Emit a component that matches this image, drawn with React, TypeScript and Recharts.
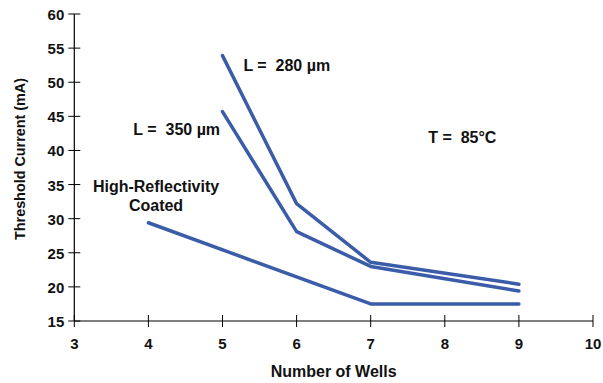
import React from 'react';
import { LineChart, Line, XAxis, YAxis, ReferenceDot, Label } from 'recharts';

const wells = [4, 5, 6, 7, 9];
const hrCoated = [29.4, null, null, 17.5, 17.5];
const l350 = [null, 45.7, 28.1, 23.0, 19.4];
const l280 = [null, 53.9, 32.2, 23.6, 20.4];
const xTicks = [3, 4, 5, 6, 7, 8, 9, 10];
const yTicks = [15, 20, 25, 30, 35, 40, 45, 50, 55, 60];

const hrData = wells.map((w, i) => ({ x: w, y: hrCoated[i] })).filter(d => d.y !== null);
const d350 = wells.map((w, i) => ({ x: w, y: l350[i] })).filter(d => d.y !== null);
const d280 = wells.map((w, i) => ({ x: w, y: l280[i] })).filter(d => d.y !== null);

const FONT = '"Liberation Sans", Arial, Helvetica, sans-serif';
const LINE = '#3a5ca9';
const INK = '#111';

const YTick = (props: any) => {
  const { x, y, payload } = props;
  return (
    <g>
      <line x1={x - 6} x2={x + 6} y1={y} y2={y} stroke="#000" strokeWidth={1} />
      <text x={x - 10} y={y + 6} textAnchor="end" fontFamily={FONT} fontWeight="bold" fontSize={15} fill={INK}>
        {payload.value}
      </text>
    </g>
  );
};

const XTick = (props: any) => {
  const { x, y, payload } = props;
  return (
    <g>
      <line x1={x} x2={x} y1={y - 6} y2={y + 6} stroke="#000" strokeWidth={1} />
      <text x={x} y={y + 28} textAnchor="middle" fontFamily={FONT} fontWeight="bold" fontSize={15} fill={INK}>
        {`${payload.value}`}
      </text>
    </g>
  );
};

const annot = (lines: string[], anchor: 'start' | 'middle') => (props: any) => {
  const vb = props.viewBox || {};
  const cx = vb.x + (vb.width || 0) / 2;
  const cy = vb.y + (vb.height || 0) / 2;
  return (
    <text x={cx} y={cy} textAnchor={anchor} fontFamily={FONT} fontWeight="bold" fontSize={16} fill={INK} style={{ whiteSpace: 'pre' }}>
      {lines.map((l, i) => (
        <tspan key={i} x={cx} dy={i === 0 ? 0 : 19}>{l}</tspan>
      ))}
    </text>
  );
};

const YTitle = () => {
  const cx = 25;
  const cy = 159;
  return (
    <text x={cx} y={cy} transform={`rotate(-90, ${cx}, ${cy})`} textAnchor="middle" fontFamily={FONT} fontWeight="bold" fontSize={15} fill={INK} textLength={162} lengthAdjust="spacingAndGlyphs">
      Threshold Current (mA)
    </text>
  );
};

export default function App() {
  return (
    <div style={{ position: 'absolute', left: 0, top: 0, background: '#fff' }}>
      <LineChart width={603} height={383} margin={{ top: 14, right: 10, left: 0, bottom: 0 }}>
        <XAxis type="number" dataKey="x" domain={[3, 10]} ticks={xTicks} interval={0} height={62} tickSize={0} tickMargin={0} tick={<XTick />} axisLine={{ stroke: '#000', strokeWidth: 1.2 }}>
          <Label value="Number of Wells" position="insideBottom" offset={6} fontFamily={FONT} fontWeight="bold" fontSize={16} fill={INK} />
        </XAxis>
        <YAxis type="number" dataKey="y" domain={[15, 60]} ticks={yTicks} interval={0} width={74.3} tickSize={0} tickMargin={0} tick={<YTick />} axisLine={{ stroke: '#000', strokeWidth: 1.2 }}>
          <Label content={<YTitle />} />
        </YAxis>
        <Line data={hrData} dataKey="y" stroke={LINE} strokeWidth={3.5} dot={false} isAnimationActive={false} strokeLinejoin="round" strokeLinecap="round" />
        <Line data={d350} dataKey="y" stroke={LINE} strokeWidth={3.5} dot={false} isAnimationActive={false} strokeLinejoin="round" strokeLinecap="round" />
        <Line data={d280} dataKey="y" stroke={LINE} strokeWidth={3.5} dot={false} isAnimationActive={false} strokeLinejoin="round" strokeLinecap="round" />
        <ReferenceDot x={5.282} y={51.69} r={0} fill="none" stroke="none" label={annot(['L =  280 \u00b5m'], 'start')} />
        <ReferenceDot x={3.797} y={42.26} r={0} fill="none" stroke="none" label={annot(['L =  350 \u00b5m'], 'start')} />
        <ReferenceDot x={7.776} y={41.09} r={0} fill="none" stroke="none" label={annot(['T =  85\u00b0C'], 'start')} />
        <ReferenceDot x={4.103} y={33.95} r={0} fill="none" stroke="none" label={annot(['High-Reflectivity', 'Coated'], 'middle')} />
      </LineChart>
    </div>
  );
}
